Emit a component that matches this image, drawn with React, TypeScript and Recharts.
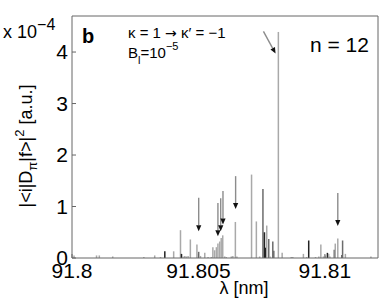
import { ComposedChart, XAxis, YAxis, ReferenceLine, Line } from 'recharts'

// wavelength ticks [nm] and intensity ticks [x 1e-4 a.u.]
const X_TICKS = [91.8, 91.805, 91.81]
const Y_TICKS = [0, 1, 2, 3, 4]

// light grey transition lines
const LIGHT_NM = [
  91.80008, 91.80097, 91.80108, 91.80161, 91.80284, 91.80327, 91.8035, 91.80402, 91.80429, 91.80439,
  91.80446, 91.80452, 91.80459, 91.80468, 91.80494, 91.80508, 91.80525, 91.80538, 91.80551, 91.80557,
  91.80564, 91.80571, 91.80577, 91.80584, 91.8059, 91.80596, 91.80604, 91.8061, 91.8063, 91.80636,
  91.80646, 91.80652, 91.8071, 91.80729, 91.80742, 91.8077, 91.80783, 91.80816, 91.80831, 91.80867,
  91.80873, 91.80915, 91.80928, 91.80963, 91.80976, 91.80984, 91.80994, 91.81002, 91.81015, 91.8102,
  91.81041, 91.81051, 91.81081, 91.81182,
]
const LIGHT_VAL = [
  0.05, 0.05, 0.05, 0.03, 0.02, 0.05, 0.02, 0.13, 0.54, 0.03,
  0.04, 0.03, 0.04, 0.36, 0.26, 0.04, 0.1, 0.02, 0.02, 0.21,
  0.15, 0.21, 0.28, 0.32, 0.39, 0.44, 0.03, 0.02, 0.03, 0.04,
  0.7, 0.03, 1.62, 0.71, 0.03, 0.63, 0.03, 4.39, 0.1, 0.02,
  0.02, 0.08, 0.02, 0.02, 0.03, 0.26, 0.03, 0.05, 0.08, 0.03,
  0.28, 0.38, 0.08, 0.03,
]

// medium grey lines
const MID_NM = [91.80501, 91.80755, 91.80778, 91.80794, 91.80798, 91.81037, 91.8107]
const MID_VAL = [0.12, 1.34, 0.37, 0.32, 0.14, 0.16, 0.34]

// dark lines
const DARK_NM = [91.80367, 91.80433, 91.80761, 91.80765, 91.80936, 91.8101, 91.81068]
const DARK_VAL = [0.13, 0.08, 0.5, 0.2, 0.34, 0.1, 0.06]

// arrows marking transitions
const ARROW_NM_FROM = [91.80501, 91.80577, 91.80588, 91.80597, 91.80647, 91.81051, 91.80757]
const ARROW_NM_TO = [91.80501, 91.80577, 91.80588, 91.80597, 91.80647, 91.81051, 91.80805]
const ARROW_FROM = [1.17, 1.07, 1.16, 1.3, 1.59, 1.26, 4.4]
const ARROW_TO = [0.52, 0.42, 0.52, 0.65, 0.95, 0.62, 3.97]

const FONT = '"Liberation Sans", Arial, Helvetica, sans-serif'

type Stem = { nm: number; v: number; color: string }

const stems: Stem[] = [
  ...LIGHT_NM.map((nm, i) => ({ nm, v: LIGHT_VAL[i], color: '#a9a9a9' })),
  ...MID_NM.map((nm, i) => ({ nm, v: MID_VAL[i], color: '#6c6c6c' })),
  ...DARK_NM.map((nm, i) => ({ nm, v: DARK_VAL[i], color: '#222222' })),
].sort((a, b) => a.nm - b.nm)

function Arrow(props: any) {
  const { x1, y1, x2, y2 } = props
  const dx = x2 - x1
  const dy = y2 - y1
  const len = Math.hypot(dx, dy) || 1
  const ux = dx / len
  const uy = dy / len
  const hl = 6
  const hw = 2.6
  const bx = x2 - ux * hl
  const by = y2 - uy * hl
  return (
    <g>
      <line x1={x1} y1={y1} x2={bx} y2={by} stroke="#8c8c8c" strokeWidth={1.4} />
      <polygon
        points={`${x2},${y2} ${bx - uy * hw},${by + ux * hw} ${bx + uy * hw},${by - ux * hw}`}
        fill="#111"
      />
    </g>
  )
}

export default function App() {
  const tickStyle = { fill: '#000', fontSize: 21, fontFamily: FONT }
  return (
    <div style={{ position: 'absolute', left: 0, top: 0, width: 382, height: 301, background: '#fff' }}>
      <ComposedChart width={382} height={301} data={stems} margin={{ top: 15, right: 3, bottom: 0, left: 0 }}>
        <XAxis
          dataKey="nm"
          type="number"
          domain={[91.8, 91.8121]}
          allowDataOverflow
          ticks={X_TICKS}
          interval={0}
          tickFormatter={(v: number) => String(v)}
          height={43}
          tickSize={-4}
          tickMargin={9}
          stroke="#666"
          tick={tickStyle}
        />
        <XAxis
          xAxisId="top"
          orientation="top"
          type="number"
          domain={[91.8, 91.8121]}
          allowDataOverflow
          ticks={X_TICKS}
          interval={0}
          height={1}
          tickSize={-4}
          stroke="#666"
          tick={false}
        />
        <YAxis
          type="number"
          domain={[0, 4.7]}
          allowDataOverflow
          ticks={Y_TICKS}
          interval={0}
          width={72}
          tickSize={-4}
          tickMargin={8}
          stroke="#666"
          tick={tickStyle}
        />
        <YAxis
          yAxisId="right"
          orientation="right"
          type="number"
          domain={[0, 4.7]}
          allowDataOverflow
          ticks={Y_TICKS}
          interval={0}
          width={1}
          tickSize={-4}
          stroke="#666"
          tick={false}
        />
        <Line dataKey="v" stroke="none" dot={false} activeDot={false} isAnimationActive={false} />
        {stems.map((s, i) => (
          <ReferenceLine
            key={'s' + i}
            segment={[{ x: s.nm, y: 0 }, { x: s.nm, y: s.v }]}
            stroke={s.color}
            strokeWidth={1.5}
          />
        ))}
        {ARROW_FROM.map((v, i) => (
          <ReferenceLine
            key={'a' + i}
            segment={[{ x: ARROW_NM_FROM[i], y: v }, { x: ARROW_NM_TO[i], y: ARROW_TO[i] }]}
            shape={Arrow}
          />
        ))}
      </ComposedChart>
      <svg
        width={382}
        height={301}
        style={{ position: 'absolute', left: 0, top: 0, pointerEvents: 'none' }}
        fontFamily={FONT}
      >
        <text x={3} y={38} fontSize={18} fill="#000">
          x 10<tspan dy={-8} fontSize={16}>−4</tspan>
        </text>
        <text x={82} y={43} fontSize={20} fontWeight="bold" fill="#000">b</text>
        <text x={128} y={38} fontSize={15} fill="#000">
          κ = 1 <tspan fontFamily="DejaVu Sans" fontSize={14}>→</tspan> κ′ = −1
        </text>
        <text x={128} y={58} fontSize={15} fill="#000">
          B<tspan dy={6} fontSize={11}>l</tspan>
          <tspan dy={-6}>=10</tspan>
          <tspan dy={-8} fontSize={11}>−5</tspan>
        </text>
        <text x={310} y={52} fontSize={21} fill="#000">n = 12</text>
        <text x={244} y={294} fontSize={18} fill="#000" textAnchor="middle">λ [nm]</text>
        <text x={32} y={146} fontSize={18} fill="#000" textAnchor="middle" transform="rotate(-90 32 146)">
          |&lt;i|D<tspan dy={5} fontSize={13}>π</tspan>
          <tspan dy={-5}>|f&gt;|</tspan>
          <tspan dy={-8} fontSize={13}>2</tspan>
          <tspan dy={8}> [a.u.]</tspan>
        </text>
      </svg>
    </div>
  )
}
